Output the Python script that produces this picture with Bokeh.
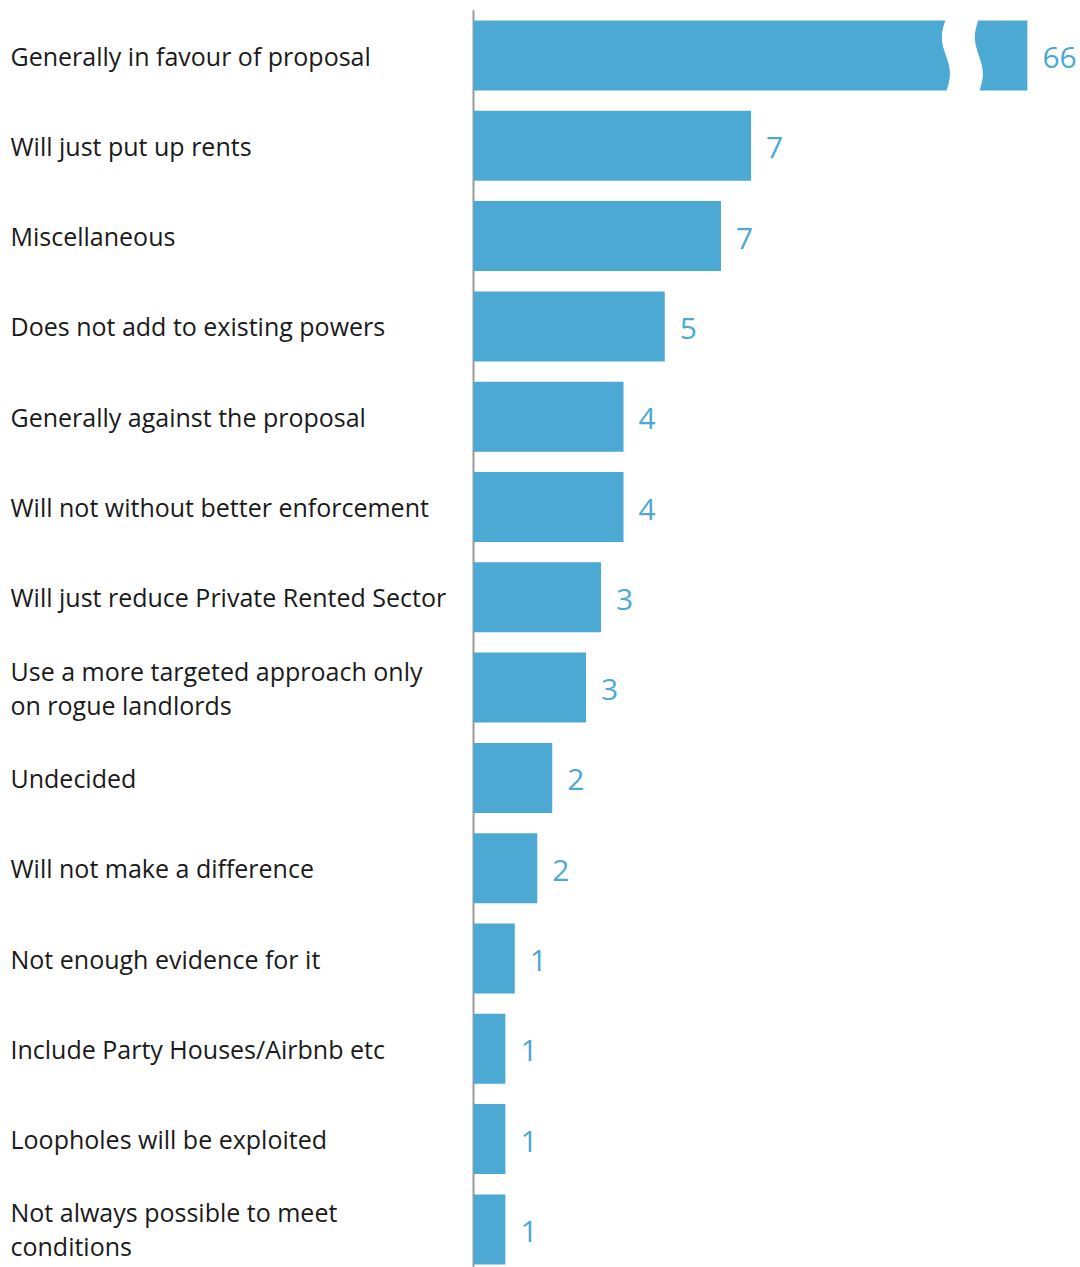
import numpy as np
from bokeh.plotting import figure
from bokeh.models import Range1d, ColumnDataSource
from bokeh.core.properties import value
from bokeh.embed import file_html
from bokeh.resources import INLINE

# ---- data ----
categories = [
    "Generally in favour of proposal",
    "Will just put up rents",
    "Miscellaneous",
    "Does not add to existing powers",
    "Generally against the proposal",
    "Will not without better enforcement",
    "Will just reduce Private Rented Sector",
    "Use a more targeted approach only\non rogue landlords",
    "Undecided",
    "Will not make a difference",
    "Not enough evidence for it",
    "Include Party Houses/Airbnb etc",
    "Loopholes will be exploited",
    "Not always possible to meet\nconditions",
]
percent = [66.0, 7.4, 6.6, 5.1, 4.0, 4.0, 3.4, 3.0, 2.1, 1.7, 1.1, 0.85, 0.85, 0.85]
value_labels = ["66", "7", "7", "5", "4", "4", "3", "3", "2", "2", "1", "1", "1", "1"]

# ---- layout ----
W, H = 1080, 1267
PX = 37.5            # pixels per percentage point
AXIS_PX = 473        # frame x of the zero line
TOP_PX = 55          # frame y of first row centre
PITCH = 90.3         # pixels per row
CAP = 14.77          # display limit for broken bars
BAR_COLOR = "#4BA9D4"

x_start = -AXIS_PX / PX
x_end = (W - AXIS_PX) / PX
y_top = -TOP_PX / PITCH
y_bottom = y_top + H / PITCH

p = figure(width=W, height=H, x_range=Range1d(x_start, x_end),
           y_range=Range1d(y_bottom, y_top), output_backend="svg",
           toolbar_location=None, min_border=0,
           x_axis_location=None, y_axis_location=None)
p.grid.visible = False
p.outline_line_color = None
p.background_fill_color = "white"

ys = list(range(len(categories)))
disp = [min(v, CAP) for v in percent]
src = ColumnDataSource(dict(y=ys, right=disp, cat=categories, lab=value_labels,
                            lx=[x_start + 10 / PX] * len(ys)))

# zero line
p.segment(x0=[0], x1=[0], y0=[-0.5], y1=[y_bottom], line_color="#9a9a9a", line_width=2)

p.hbar(y="y", left=0, right="right", height=0.775, source=src,
       fill_color=BAR_COLOR, line_color=None)

# break marks for bars exceeding the cap
t = np.linspace(0, 1, 40)
hh = 0.775 / 2 + 0.02
gap_c = CAP - 65 / PX
gap_hw = 16 / PX
amp = 4 / PX
xs_list, ys_list = [], []
for yi, v in zip(ys, percent):
    if v > CAP:
        yy = yi - hh + t * 2 * hh
        left = gap_c - gap_hw - amp * np.sin(2 * np.pi * t)
        right = gap_c + gap_hw - amp * np.sin(2 * np.pi * t)
        xs_list.append(list(left) + list(right[::-1]))
        ys_list.append(list(yy) + list(yy[::-1]))
if xs_list:
    p.patches(xs=xs_list, ys=ys_list, fill_color="white", line_color="white", line_width=1)

# category labels
p.text(x="lx", y="y", text="cat", source=src, text_font=value("Open Sans"),
       text_font_size="25px", text_baseline="middle", text_align="left",
       text_color="#1a1a1a", text_line_height=1.0)

# value labels
p.text(x="right", y="y", text="lab", source=src, x_offset=15, y_offset=2,
       text_font=value("Open Sans"), text_font_size="30px",
       text_baseline="middle", text_align="left", text_color=BAR_COLOR)

open("out.html", "w").write(file_html(p, INLINE))
